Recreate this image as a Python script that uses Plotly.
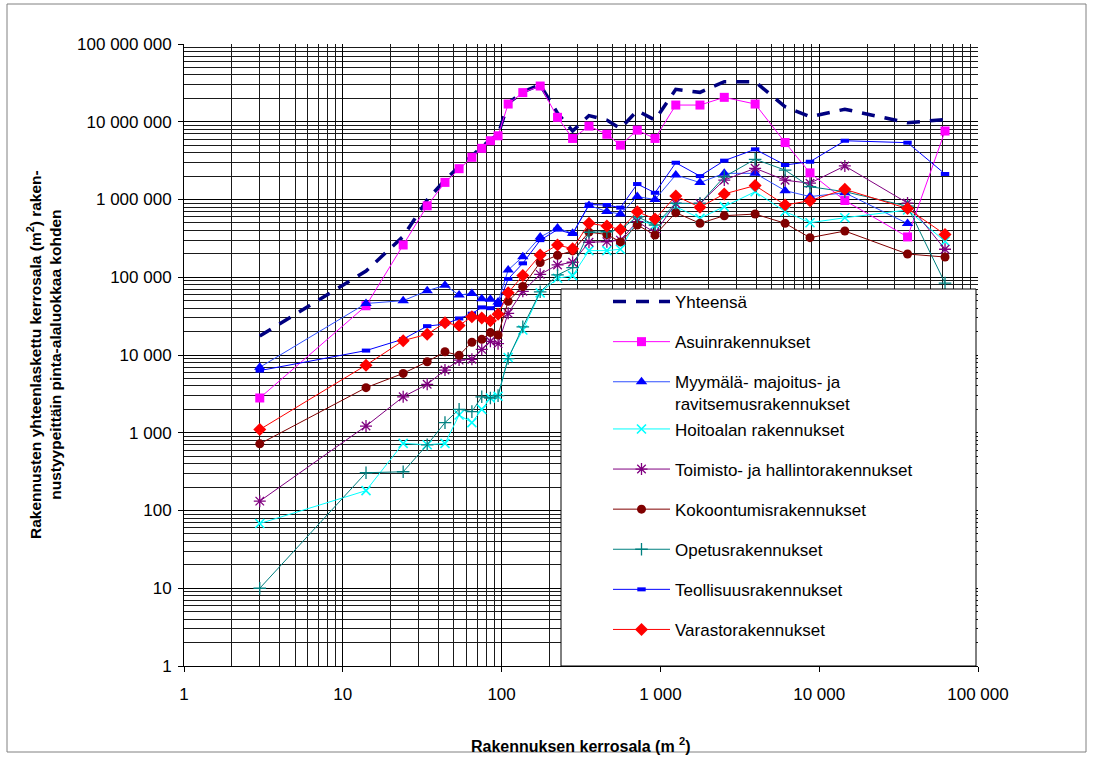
import plotly.graph_objects as go

# Building floor-area classes (m2), class midpoints
area = [3, 14, 24, 34, 44, 54, 65, 75, 85, 95, 110, 136, 175, 225, 280, 355, 460,
        560, 715, 925, 1250, 1775, 2525, 3950, 6100, 8750, 14500, 36000, 62000]

# Summed floor area (m2) per building type and size class
yhteensa = [17500, 120000, 335000, 990000, 1780000, 2650000, 3650000, 4700000, 5900000,
            6800000, 17300000, 24300000, 29800000, 12900000, 7600000, 12000000, 10500000,
            8200000, 13900000, 10500000, 26100000, 23900000, 32700000, 32700000, 15600000,
            11600000, 14500000, 9700000, 10700000]
asuin = [2800, 43000, 260000, 830000, 1660000, 2490000, 3490000, 4550000, 5700000, 6600000,
         16900000, 23700000, 28800000, 11400000, 6100000, 8800000, 6900000, 5000000, 7800000,
         6100000, 16400000, 16400000, 20600000, 16900000, 5400000, 2200000, 970000, 330000,
         7600000]
myymala = [6950, 46000, 50000, 67000, 79000, 59000, 62000, 53000, 52000, 48000, 124000,
           184000, 330000, 430000, 367000, 840000, 700000, 650000, 1090000, 1000000, 2070000,
           1650000, 2170000, 2170000, 1300000, 1090000, 1220000, 490000, None]
hoito = [68, 180, 730, 700, 730, 1690, 1350, 2000, 2800, 2950, 9300, 21000, 63000, 97000,
         105000, 220000, 220000, 229000, 545000, 470000, 808000, 573000, 810000, 1260000,
         700000, 503000, 583000, 733000, 290000]
toimisto = [132, 1220, 2900, 4200, 6400, 8600, 8800, 11800, 15000, 14000, 34400, 66000,
            109000, 144000, 156000, 282000, 287000, 300000, 520000, 374000, 890000, 890000,
            1780000, 2520000, 1770000, 1620000, 2700000, 900000, 229000]
kokoontumis = [720, 3800, 5800, 8200, 11000, 9900, 14600, 15900, 19400, 18100, 49000, 76000,
               155000, 192000, 218000, 380000, 355000, 285000, 470000, 350000, 677000, 494000,
               619000, 650000, 494000, 323000, 393000, 199000, 182000]
opetus = [10, 306, 315, 700, 1350, 2000, 1870, 2900, 2800, 3000, 9000, 23000, 65000, 107000,
          133000, 379000, 385000, 410000, 600000, 470000, 890000, 890000, 1960000, 3290000,
          2390000, 1460000, 1260000, 820000, 84000]
teollisuus = [6300, 11400, 16000, 23500, 25000, 29500, 34000, 41000, 40000, 44000, 95000,
              151000, 300000, 410000, 360000, 860000, 850000, 785000, 1580000, 1220000,
              2970000, 2000000, 3160000, 4420000, 2780000, 3060000, 5700000, 5380000, 2130000]
varasto = [1100, 7400, 15300, 18500, 26000, 24000, 31000, 30000, 27600, 33500, 63000, 105000,
           193000, 260000, 233000, 494000, 456000, 410000, 697000, 560000, 1110000, 795000,
           1180000, 1510000, 850000, 966000, 1350000, 765000, 355000]

x_tickvals = [1, 10, 100, 1000, 10000, 100000]
x_ticktext = ["1", "10", "100", "1 000", "10 000", "100 000"]
y_tickvals = [1, 10, 100, 1000, 10000, 100000, 1000000, 10000000, 100000000]
y_ticktext = ["1", "10", "100", "1 000", "10 000", "100 000", "1 000 000",
              "10 000 000", "100 000 000"]

FONT = "Liberation Sans, Arial, sans-serif"

# (name, values, line style, marker style, legend group)
series = [
    ("Yhteensä", yhteensa, dict(color="#000080", width=3.5, dash="13px,10px"), None, "g0"),
    ("Asuinrakennukset", asuin, dict(color="#FF00FF", width=1),
     dict(symbol="square", size=9, color="#FF00FF"), "g1"),
    ("Myymälä- majoitus- ja<br>ravitsemusrakennukset", myymala,
     dict(color="#2F4FFF", width=1),
     dict(symbol="triangle-up", size=10, color="#0000FF"), "g2"),
    ("Hoitoalan rakennukset", hoito, dict(color="#00FFFF", width=1),
     dict(symbol="x-thin", size=9, color="#00FFFF", line=dict(color="#00FFFF", width=1.6)),
     "g2"),
    ("Toimisto- ja hallintorakennukset", toimisto, dict(color="#800080", width=1),
     dict(symbol="asterisk", size=10, color="#800080", line=dict(color="#800080", width=1.3)),
     "g4"),
    ("Kokoontumisrakennukset", kokoontumis, dict(color="#800000", width=1),
     dict(symbol="circle", size=9, color="#800000"), "g5"),
    ("Opetusrakennukset", opetus, dict(color="#008080", width=1),
     dict(symbol="cross-thin", size=9, color="#008080", line=dict(color="#008080", width=1.3)),
     "g6"),
    ("Teollisuusrakennukset", teollisuus, dict(color="#0000FF", width=1),
     dict(symbol="line-ew", size=6, color="#0000FF", line=dict(color="#0000FF", width=4)),
     "g7"),
    ("Varastorakennukset", varasto, dict(color="#FF0000", width=1),
     dict(symbol="diamond", size=10, color="#FF0000"), "g8"),
]

fig = go.Figure()
for name, values, line, marker, group in series:
    fig.add_trace(go.Scatter(
        x=area, y=values, name=name,
        mode="lines" if marker is None else "lines+markers",
        line=line, marker=marker, legendgroup=group,
        connectgaps=False,
    ))

axis_common = dict(
    type="log",
    showline=True, linecolor="black", linewidth=1,
    ticks="outside", ticklen=5, tickcolor="black", tickwidth=1,
    showgrid=True, gridcolor="#000000", gridwidth=1,
    minor=dict(dtick="D1", showgrid=True, gridcolor="#1a1a1a", gridwidth=1, ticks=""),
    tickfont=dict(family=FONT, size=17, color="black"),
    zeroline=False,
)

fig.update_xaxes(range=[0, 5], tickvals=x_tickvals, ticktext=x_ticktext,
                 ticklabelstandoff=8, **axis_common)
fig.update_yaxes(range=[0, 8], tickvals=y_tickvals, ticktext=y_ticktext,
                 ticklabelstandoff=3, **axis_common)

W, H = 1093, 758
L, R, T, B = 184, 115, 44, 92
pw, ph = W - L - R, H - T - B


def px_x(p):
    return (p - L) / pw


def px_y(p):
    return (H - B - p) / ph


fig.update_layout(
    width=W, height=H, autosize=False,
    margin=dict(l=L, r=R, t=T, b=B),
    paper_bgcolor="white", plot_bgcolor="white",
    font=dict(family=FONT, color="black"),
    legend=dict(
        x=px_x(608), y=px_y(284), xanchor="left", yanchor="top",
        bgcolor="rgba(0,0,0,0)", borderwidth=0,
        font=dict(family=FONT, size=17, color="black"),
        itemwidth=57, tracegroupgap=15, valign="top",
    ),
    shapes=[
        # legend panel
        dict(type="rect", xref="paper", yref="paper",
             x0=px_x(561), x1=px_x(976), y0=0, y1=px_y(289),
             fillcolor="white", line=dict(color="black", width=1), layer="above"),
        # outer chart frame
        dict(type="rect", xref="paper", yref="paper",
             x0=px_x(7), x1=px_x(1086), y0=px_y(752), y1=px_y(4),
             line=dict(color="#808080", width=1), layer="below"),
    ],
    annotations=[
        dict(text="<b>Rakennusten yhteenlaskettu kerrosala (m<sup>2</sup>) raken-<br>"
                  "nustyypeittäin pinta-alaluokkaa kohden</b>",
             xref="paper", yref="paper", x=px_x(44), y=0.5, textangle=-90,
             showarrow=False, xanchor="center", yanchor="middle",
             font=dict(family=FONT, size=15.5, color="black")),
        dict(text="<b>Rakennuksen kerrosala (m <sup>2</sup>)</b>",
             xref="paper", yref="paper", x=0.5, y=px_y(745),
             showarrow=False, xanchor="center", yanchor="middle",
             font=dict(family=FONT, size=16, color="black")),
    ],
)

fig.write_html("out.html")
